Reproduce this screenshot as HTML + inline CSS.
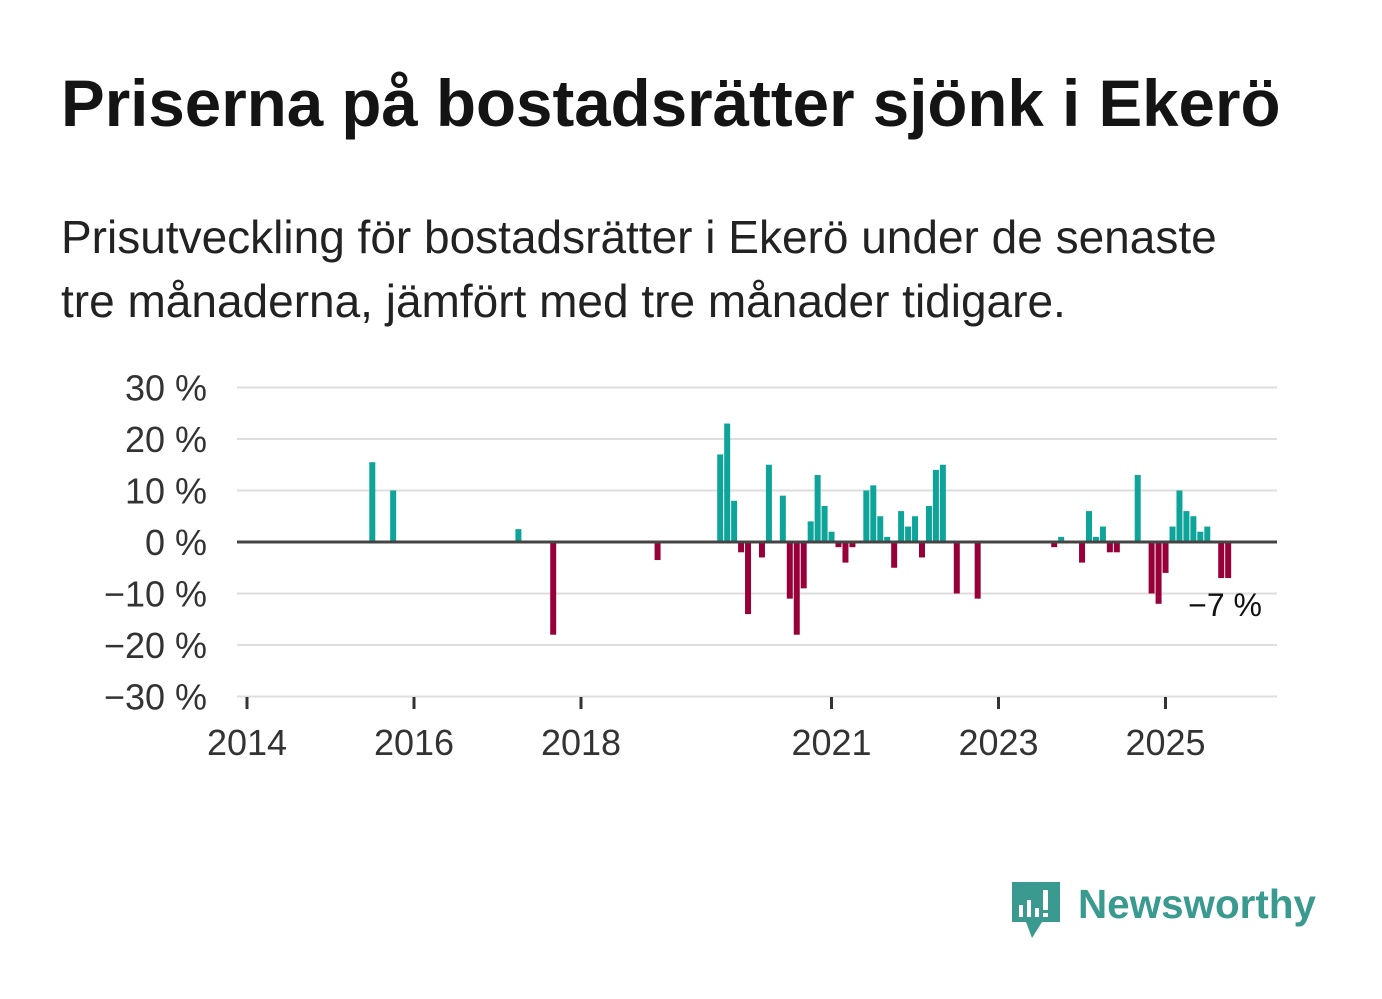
<!DOCTYPE html>
<html><head><meta charset="utf-8"><style>
body{margin:0;width:1382px;height:999px;background:#fff;font-family:"Liberation Sans","DejaVu Sans",sans-serif;color:#111;overflow:hidden;position:relative}
h1{position:absolute;left:61px;top:66px;margin:0;font-size:65.5px;font-weight:bold;color:#141414;white-space:nowrap}
.sub{position:absolute;left:61px;top:205px;margin:0;font-size:46px;line-height:64px;color:#222;white-space:nowrap}
svg{position:absolute;left:0;top:0}
</style></head><body>
<h1>Priserna på bostadsrätter sjönk i Ekerö</h1>
<p class="sub">Prisutveckling för bostadsrätter i Ekerö under de senaste<br>tre månaderna, jämfört med tre månader tidigare.</p>
<svg id="chart" width="1382" height="999"></svg>
<svg width="1382" height="999">
<path d="M1012 882 h48 v40 h-18 l-10 16 l-6 -16 h-14 z" fill="#3a9a8f"/>
<rect x="1019" y="905" width="4" height="12" fill="#fff"/><rect x="1027" y="900" width="4" height="17" fill="#fff"/><rect x="1035" y="908" width="4" height="9" fill="#fff"/><rect x="1043" y="890" width="5" height="20" fill="#fff"/><rect x="1043" y="913" width="5" height="4" fill="#fff"/>
<text x="1078" y="918" font-size="41" font-weight="bold" fill="#3a9a8f" font-family="Liberation Sans, sans-serif" textLength="238" lengthAdjust="spacingAndGlyphs">Newsworthy</text>
</svg>
<script>
const months=["2015-06","2015-09","2017-03","2017-08","2018-11","2019-08","2019-09","2019-10","2019-11","2019-12","2020-02","2020-03","2020-05","2020-06","2020-07","2020-08","2020-09","2020-10","2020-11","2020-12","2021-01","2021-02","2021-03","2021-05","2021-06","2021-07","2021-08","2021-09","2021-10","2021-11","2021-12","2022-01","2022-02","2022-03","2022-04","2022-06","2022-09","2023-08","2023-09","2023-12","2024-01","2024-02","2024-03","2024-04","2024-05","2024-08","2024-10","2024-11","2024-12","2025-01","2025-02","2025-03","2025-04","2025-05","2025-06","2025-08","2025-09"];
const values=[15.5,10,2.5,-18,-3.5,17,23,8,-2,-14,-3,15,9,-11,-18,-9,4,13,7,2,-1,-4,-1,10,11,5,1,-5,6,3,5,-3,7,14,15,-10,-11,-1,1,-4,6,1,3,-2,-2,13,-10,-12,-6,3,10,6,5,2,3,-7,-7];
const yTicks=[30,20,10,0,-10,-20,-30];
const yTickLabels=["30 %","20 %","10 %","0 %","−10 %","−20 %","−30 %"];
const xTickYears=[2014,2016,2018,2021,2023,2025];
const lastLabel="−7 %";
const NS="http://www.w3.org/2000/svg";
const svg=document.getElementById('chart');
const x0=247,pxPerYear=83.5;
const xScale=(y,m)=>x0+((y-2014)+m/12)*pxPerYear;
const yScale=v=>542-v*5.15;
function mk(t,a){const e=document.createElementNS(NS,t);for(const k in a)e.setAttribute(k,a[k]);svg.appendChild(e);return e;}
yTicks.forEach((t,i)=>{
  if(t!==0){const l=mk('line',{x1:237,x2:1277,y1:yScale(t),y2:yScale(t),stroke:'#dedede','stroke-width':2});
  
  }
  const tx=mk('text',{x:207,y:yScale(t)+13,'text-anchor':'end','font-size':36,fill:'#333'});
  tx.textContent=yTickLabels[i];
  
  
});
xTickYears.forEach(yr=>{
  const x=xScale(yr,0);
  const l=mk('line',{x1:x,x2:x,y1:697,y2:709,stroke:'#333','stroke-width':3});
  
  
  const t=mk('text',{x:x,y:755,'text-anchor':'middle','font-size':36,fill:'#333'});
  t.textContent=yr;
  
  
});
months.forEach((d,i)=>{
  const [yy,mm]=d.split('-').map(Number);
  const v=values[i];
  const x=xScale(yy,mm-1)+4;
  const y1=yScale(Math.max(v,0)),y2=yScale(Math.min(v,0));
  const r=mk('rect',{x:x,y:y1,width:6,height:y2-y1,fill:v>=0?'#0ea49a':'#98003a'});
  
  
});
const z=mk('line',{x1:237,x2:1277,y1:542,y2:542,stroke:'#444','stroke-width':3});


const lb=mk('text',{x:1262,y:yScale(values[values.length-1])+38,'text-anchor':'end','font-size':32,fill:'#111'});
lb.textContent=lastLabel;


</script>
</body></html>
